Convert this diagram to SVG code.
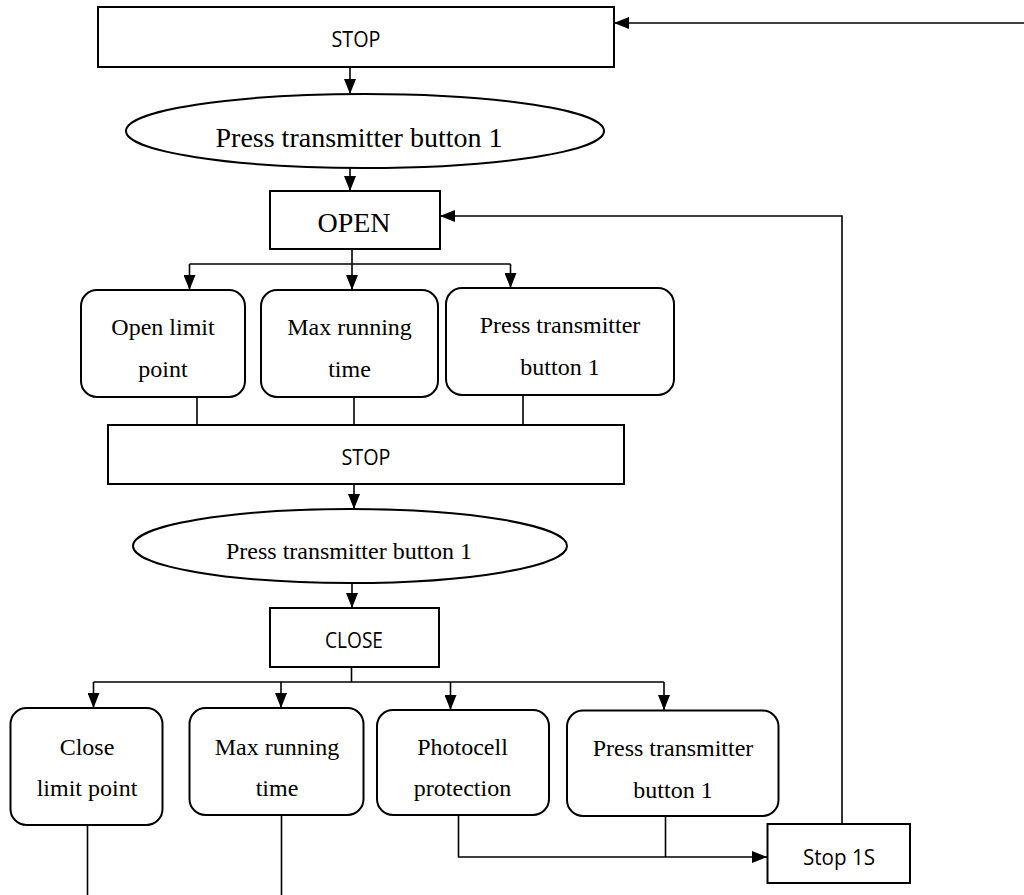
<svg xmlns="http://www.w3.org/2000/svg" width="1024" height="895" viewBox="0 0 1024 895">
<style>
.box{fill:#fff;stroke:#000;stroke-width:2}
.con{fill:none;stroke:#000;stroke-width:1.6}
.sans{font-family:"Open Sans","Liberation Sans",sans-serif;font-size:21px;fill:#000;text-anchor:middle}
.ser{font-family:"Liberation Serif","Times New Roman",serif;font-size:24px;fill:#000;text-anchor:middle}
.big{font-size:28px}
</style>
<defs>
<marker id="arr" viewBox="0 0 15 12" markerWidth="15" markerHeight="12" refX="15" refY="6" orient="auto" markerUnits="userSpaceOnUse">
<path d="M0,0 L15,6 L0,12 z" fill="#000"/>
</marker>
</defs>
<rect width="1024" height="895" fill="#fff"/>
<g id="connectors">
<path class="con" d="M1024,23 H614" marker-end="url(#arr)"/>
<path class="con" d="M350,67 V94" marker-end="url(#arr)"/>
<path class="con" d="M350,168 V191" marker-end="url(#arr)"/>
<path class="con" d="M352,249 V264 M189.5,264 H510.5"/>
<path class="con" d="M189.5,264 V290" marker-end="url(#arr)"/>
<path class="con" d="M352,264 V290" marker-end="url(#arr)"/>
<path class="con" d="M510.5,264 V288" marker-end="url(#arr)"/>
<path class="con" d="M197,397 V425 M354,397 V425 M523,395 V425"/>
<path class="con" d="M354,484 V509" marker-end="url(#arr)"/>
<path class="con" d="M352,583 V608" marker-end="url(#arr)"/>
<path class="con" d="M351.5,667 V682 M93.5,682 H664"/>
<path class="con" d="M93.5,682 V708" marker-end="url(#arr)"/>
<path class="con" d="M281,682 V708" marker-end="url(#arr)"/>
<path class="con" d="M450.5,682 V710" marker-end="url(#arr)"/>
<path class="con" d="M664,682 V710" marker-end="url(#arr)"/>
<path class="con" d="M87.5,825 V895 M281.5,815 V895"/>
<path class="con" d="M458.5,815 V857 H767" marker-end="url(#arr)"/>
<path class="con" d="M665.5,816 V857"/>
<path class="con" d="M842,824 V216 H440" marker-end="url(#arr)"/>
</g>
<g id="stop1">
<rect class="box" x="98" y="7" width="516" height="60"/>
<text class="sans" x="356" y="47" textLength="49" lengthAdjust="spacingAndGlyphs">STOP</text>
</g>
<g id="press1">
<ellipse class="box" cx="365" cy="131" rx="239" ry="37"/>
<text class="ser big" x="359" y="147">Press transmitter button 1</text>
</g>
<g id="open">
<rect class="box" x="270" y="191" width="170" height="58"/>
<text class="ser big" x="354" y="232">OPEN</text>
</g>
<g id="openlimit">
<rect class="box" x="81" y="290" width="164" height="107" rx="16"/>
<text class="ser" x="163" y="335">Open limit</text>
<text class="ser" x="163" y="377">point</text>
</g>
<g id="maxrun1">
<rect class="box" x="261" y="290" width="177" height="107" rx="16"/>
<text class="ser" x="349.5" y="335">Max running</text>
<text class="ser" x="349.5" y="377">time</text>
</g>
<g id="press2">
<rect class="box" x="446" y="288" width="228" height="107" rx="16"/>
<text class="ser" x="560" y="333">Press transmitter</text>
<text class="ser" x="560" y="375">button 1</text>
</g>
<g id="stop2">
<rect class="box" x="108" y="425" width="516" height="59"/>
<text class="sans" x="366" y="465" textLength="49" lengthAdjust="spacingAndGlyphs">STOP</text>
</g>
<g id="press3">
<ellipse class="box" cx="350" cy="546" rx="217" ry="37"/>
<text class="ser" x="349" y="559">Press transmitter button 1</text>
</g>
<g id="close">
<rect class="box" x="270" y="608" width="169" height="59"/>
<text class="sans" x="354" y="648" textLength="58" lengthAdjust="spacingAndGlyphs">CLOSE</text>
</g>
<g id="closelimit">
<rect class="box" x="10.5" y="708" width="152" height="117" rx="16"/>
<text class="ser" x="87" y="755">Close</text>
<text class="ser" x="87" y="796">limit point</text>
</g>
<g id="maxrun2">
<rect class="box" x="189.5" y="708" width="174" height="107" rx="16"/>
<text class="ser" x="277" y="755">Max running</text>
<text class="ser" x="277" y="796">time</text>
</g>
<g id="photocell">
<rect class="box" x="377" y="710" width="172" height="105" rx="16"/>
<text class="ser" x="462.5" y="755">Photocell</text>
<text class="ser" x="462.5" y="796">protection</text>
</g>
<g id="press4">
<rect class="box" x="567" y="710.5" width="211.5" height="105.5" rx="16"/>
<text class="ser" x="673" y="756">Press transmitter</text>
<text class="ser" x="673" y="798">button 1</text>
</g>
<g id="stop1s">
<rect class="box" x="767.5" y="824" width="142.5" height="59"/>
<text class="sans" x="839" y="865" textLength="72" lengthAdjust="spacingAndGlyphs">Stop 1S</text>
</g>
</svg>
